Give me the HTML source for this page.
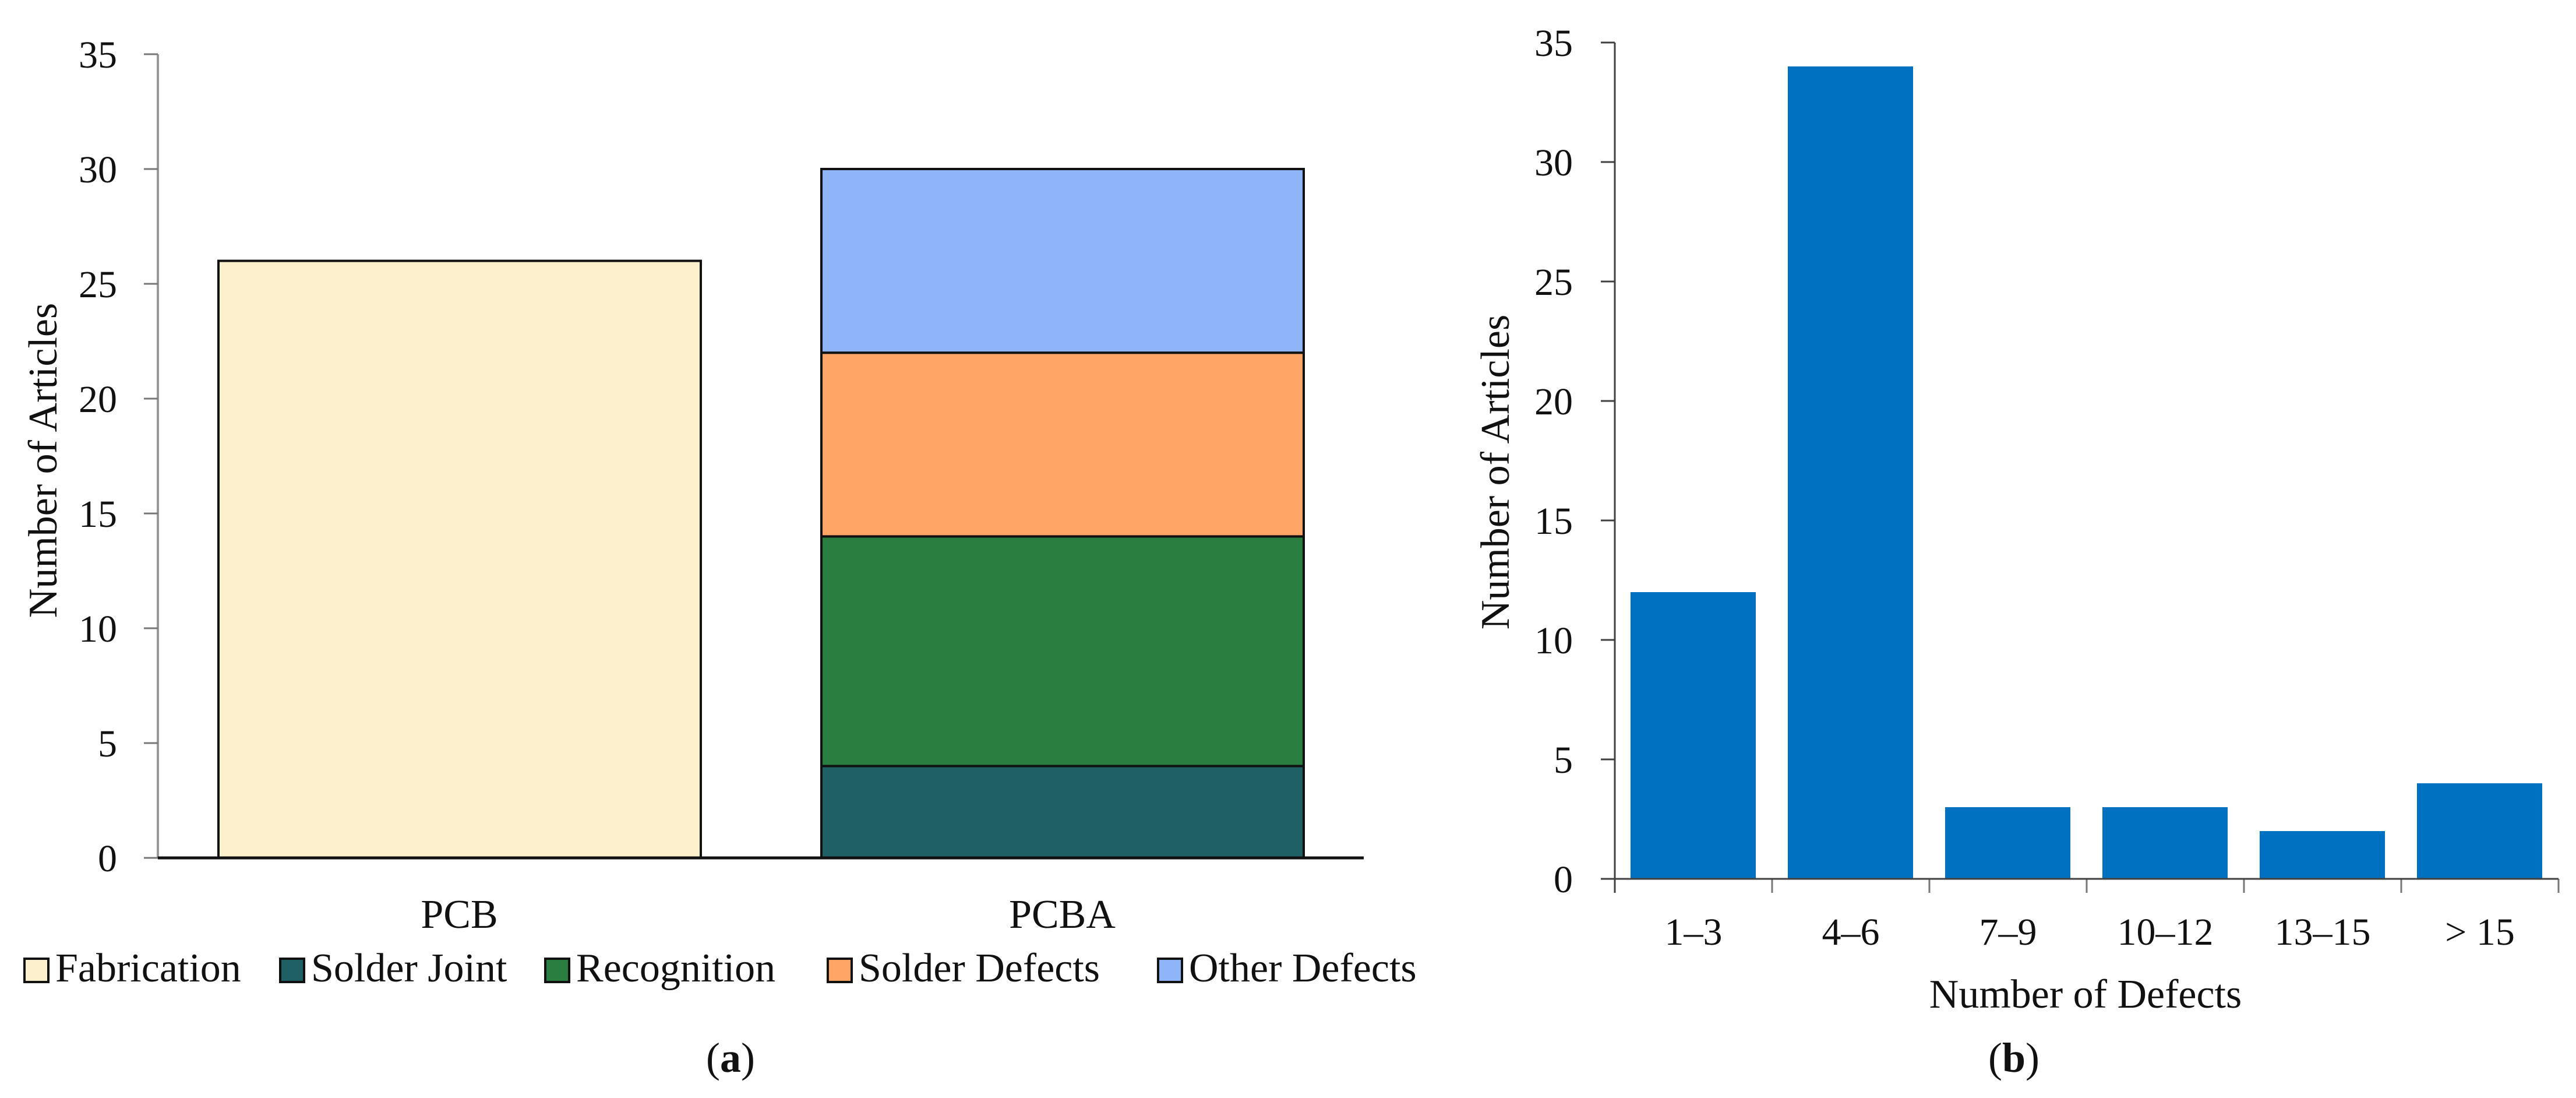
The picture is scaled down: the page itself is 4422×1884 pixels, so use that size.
<!DOCTYPE html>
<html><head><meta charset="utf-8"><style>
html,body{margin:0;padding:0;background:#fff;width:4422px;height:1884px;overflow:hidden}
svg{display:block}
text{font-family:"Liberation Serif",serif;fill:#111}
</style></head><body>
<svg id="fig" width="4422" height="1884" viewBox="0 0 4422 1884" xmlns="http://www.w3.org/2000/svg">
<g id="chartA"></g>
<g id="chartB"></g>
</svg>
<script>
// ---- Chart (a) data ----
const aCategories = ["PCB", "PCBA"];
const aSeriesNames = ["Fabrication", "Solder Joint", "Recognition", "Solder Defects", "Other Defects"];
const aFabrication = [26, 0];
const aSolderJoint = [0, 4];
const aRecognition = [0, 10];
const aSolderDefects = [0, 8];
const aOtherDefects = [0, 8];
const aTicks = [0, 5, 10, 15, 20, 25, 30, 35];
// ---- Chart (b) data ----
const bCategories = ["1–3", "4–6", "7–9", "10–12", "13–15", "> 15"];
const bValues = [12, 34, 3, 3, 2, 4];
const bTicks = [0, 5, 10, 15, 20, 25, 30, 35];

const NS = "http://www.w3.org/2000/svg";
function mk(tag, attrs, parent) {
  const e = document.createElementNS(NS, tag);
  for (const k in attrs) e.setAttribute(k, attrs[k]);
  parent.appendChild(e);
  return e;
}

// ===== Chart A =====
const gA = document.getElementById("chartA");
const aX0 = 271, aY0 = 1472, aUnit = 39.4, aCat = 1035, aBarW = 828, aBarOff = 104;
const ayS = v => aY0 - v * aUnit;
const axS = i => aX0 + i * aCat;
const aColors = ["#FDF0CC", "#1F6065", "#2A7F40", "#FFA666", "#8FB4F8"];
const aSeries = [aFabrication, aSolderJoint, aRecognition, aSolderDefects, aOtherDefects];

let el = mk("line", {x1: aX0, y1: ayS(35), x2: aX0, y2: aY0, stroke: "#999", "stroke-width": 4}, gA);


aTicks.forEach(t => {
  const tk = mk("line", {x1: aX0 - 24, y1: ayS(t), x2: aX0, y2: ayS(t), stroke: "#777", "stroke-width": 3}, gA);
  
  
  const lb = mk("text", {x: 201, y: ayS(t) + 23, "text-anchor": "end", "font-size": 66}, gA);
  lb.textContent = t;
  
  
});
aCategories.forEach((c, i) => {
  let base = 0;
  aSeries.forEach((s, j) => {
    const v = s[i];
    if (v > 0) {
      const r = mk("rect", {x: axS(i) + aBarOff, y: ayS(base + v), width: aBarW, height: v * aUnit,
        fill: aColors[j], stroke: "#111", "stroke-width": 4}, gA);
      
      
      base += v;
    }
  });
  const lb = mk("text", {x: axS(i) + aCat / 2, y: 1592, "text-anchor": "middle", "font-size": 70}, gA);
  lb.textContent = c;
  
  
});
el = mk("line", {x1: aX0, y1: aY0, x2: aX0 + 2 * aCat, y2: aY0, stroke: "#111", "stroke-width": 5}, gA);


el = mk("text", {x: 0, y: 0, "text-anchor": "middle", "font-size": 70, transform: "translate(97 790) rotate(-90)"}, gA);
el.textContent = "Number of Articles";


const legX = [42, 481, 936, 1421, 1988];
aSeriesNames.forEach((n, j) => {
  const g = mk("g", {}, gA);
  
  
  const sw = mk("rect", {x: legX[j], y: 1645, width: 41, height: 40, fill: aColors[j], stroke: "#111", "stroke-width": 4}, g);
  
  
  const t = mk("text", {x: legX[j] + 53, y: 1684, "font-size": 70}, g);
  t.textContent = n;
  
  
});
el = mk("text", {x: 1254, y: 1839, "text-anchor": "middle", "font-size": 72}, gA);
el.innerHTML = '(<tspan font-weight="bold">a</tspan>)';



// ===== Chart B =====
const gB = document.getElementById("chartB");
const bX0 = 2772, bY0 = 1508, bUnit = 41, bCat = 270, bBarW = 215, bBarOff = 27;
const byS = v => bY0 - v * bUnit;
const bxS = i => bX0 + i * bCat;
el = mk("line", {x1: bX0, y1: byS(35), x2: bX0, y2: bY0 + 24, stroke: "#404040", "stroke-width": 3}, gB);


bTicks.forEach(t => {
  const tk = mk("line", {x1: bX0 - 24, y1: byS(t), x2: bX0, y2: byS(t), stroke: "#404040", "stroke-width": 3}, gB);
  
  
  const lb = mk("text", {x: 2700, y: byS(t) + 23, "text-anchor": "end", "font-size": 66}, gB);
  lb.textContent = t;
  
  
});
bCategories.forEach((c, i) => {
  const r = mk("rect", {x: bxS(i) + bBarOff, y: byS(bValues[i]), width: bBarW, height: bValues[i] * bUnit, fill: "#0070C0"}, gB);
  
  
  const tk = mk("line", {x1: bxS(i + 1), y1: bY0, x2: bxS(i + 1), y2: bY0 + 24, stroke: "#777", "stroke-width": 3}, gB);
  
  
  const lb = mk("text", {x: bxS(i) + bCat / 2, y: 1621, "text-anchor": "middle", "font-size": 66}, gB);
  lb.textContent = c;
  
  
});
el = mk("line", {x1: bX0 - 24, y1: bY0, x2: bxS(6), y2: bY0, stroke: "#404040", "stroke-width": 3}, gB);


el = mk("text", {x: 3580, y: 1729, "text-anchor": "middle", "font-size": 70}, gB);
el.textContent = "Number of Defects";


el = mk("text", {x: 0, y: 0, "text-anchor": "middle", "font-size": 70, transform: "translate(2590 810) rotate(-90)"}, gB);
el.textContent = "Number of Articles";


el = mk("text", {x: 3457, y: 1839, "text-anchor": "middle", "font-size": 72}, gB);
el.innerHTML = '(<tspan font-weight="bold">b</tspan>)';


</script>
</body></html>
